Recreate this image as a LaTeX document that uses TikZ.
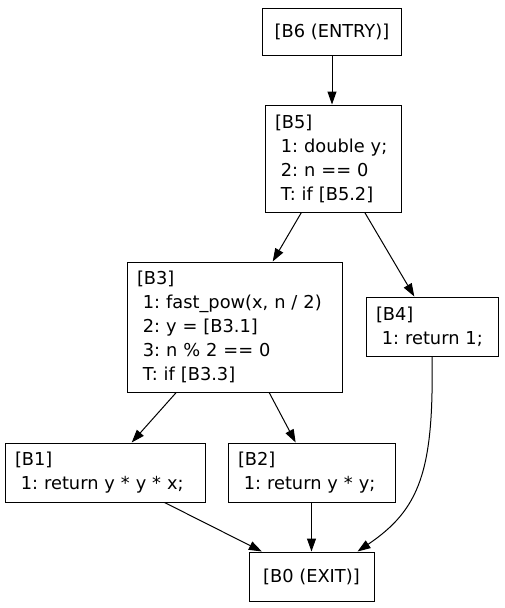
\documentclass[tikz,border=0pt]{standalone}
\usepackage{fontspec}
\setmainfont{DejaVu Sans}
\usetikzlibrary{arrows.meta}
\frenchspacing
% one unbreakable, indented statement line
\newcommand\stm[1]{\mbox{\hspace*{0.33em}#1}}
\begin{document}
\begin{tikzpicture}[x=1pt,y=-1pt,
  blk/.style={draw, line width=1pt, inner xsep=10pt, inner ysep=0pt,
    font=\fontsize{17.8}{24}\selectfont, align=left},
  term/.style={draw, line width=1pt, inner sep=0pt,
    font=\fontsize{17.8}{24}\selectfont, align=center},
  flow/.style={-{Triangle[length=13pt,width=9pt]}, line width=1pt}]
\useasboundingbox (0,0) rectangle (504,608);
% basic blocks of the CFG
\node[term, minimum width=139pt, minimum height=47pt] (b6) at (332,31.5) {[B6 (ENTRY)]};
\node[blk, text width=116pt, minimum height=107pt] (b5) at (333,158.5)
  {[B5]\\\stm{1: double y;}\\\stm{2: n == 0}\\\stm{T: if [B5.2]}};
\node[blk, text width=195pt, minimum height=130pt] (b3) at (234.5,327)
  {[B3]\\\stm{1: fast\_pow(x, n / 2)}\\\stm{2: y = [B3.1]}\\\stm{3: n \% 2 == 0}\\\stm{T: if [B3.3]}};
\node[blk, text width=112pt, minimum height=59pt] (b4) at (432,326.5)
  {[B4]\\\stm{1: return 1;}};
\node[blk, text width=180pt, minimum height=59pt] (b1) at (105,472.5)
  {[B1]\\\stm{1: return y * y * x;}};
\node[blk, text width=147pt, minimum height=59pt] (b2) at (311.5,472.5)
  {[B2]\\\stm{1: return y * y;}};
\node[term, minimum width=125pt, minimum height=49pt] (b0) at (311.5,576.5) {[B0 (EXIT)]};
% control-flow edges
\draw[flow] (b6.south) -- (b6.south |- b5.north);
\draw[flow] (b5) -- (b3);
\draw[flow] (b5) -- (b4);
\draw[flow] (b3) -- (b1);
\draw[flow] (b3) -- (b2);
\draw[flow] (b1) -- (b0);
\draw[flow] (b2) -- (b0);
\draw[flow] (b4.south) .. controls +(2,115) and +(62,-42) .. ([xshift=46pt]b0.north);
\end{tikzpicture}
\end{document}
